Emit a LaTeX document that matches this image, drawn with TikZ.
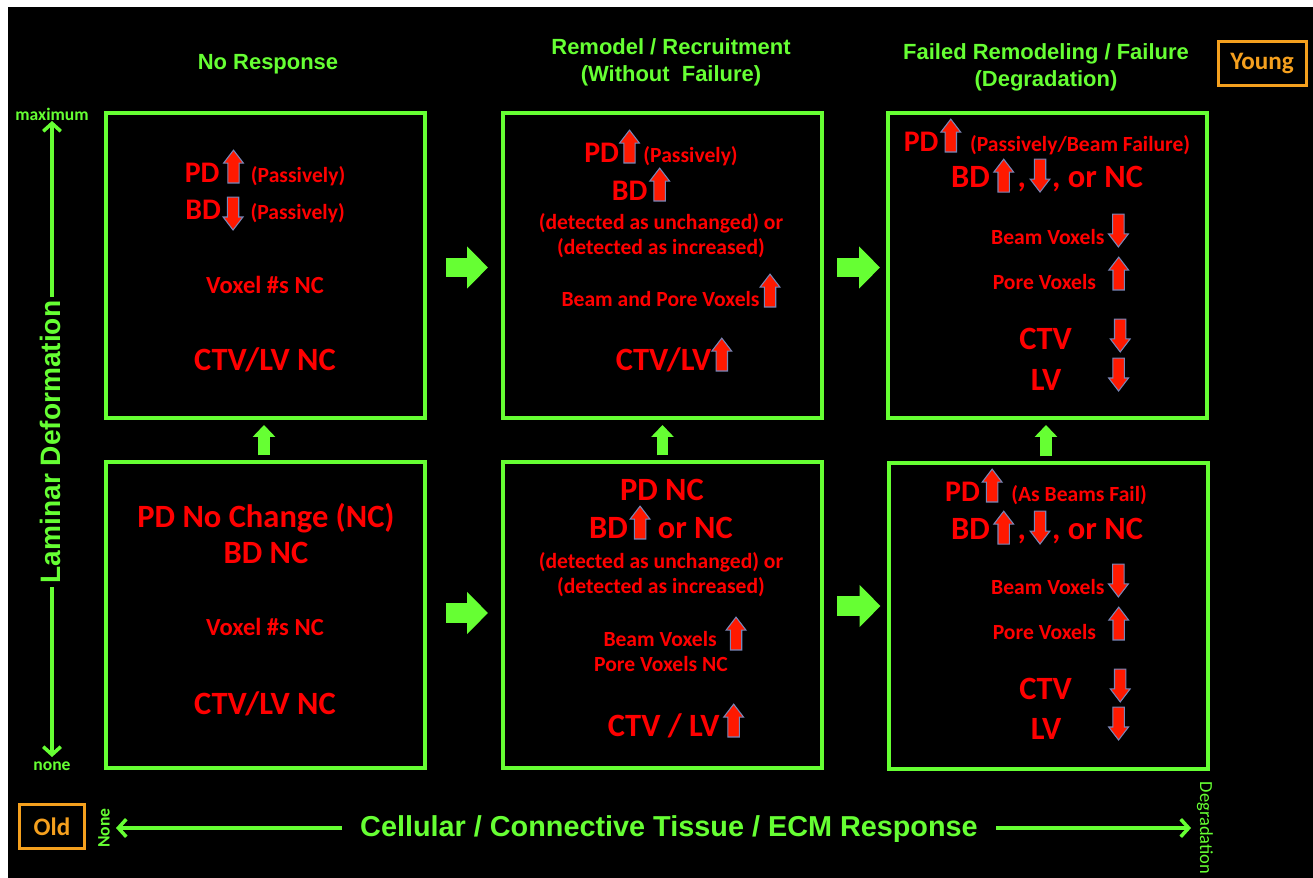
\documentclass[tikz,border=0pt]{standalone}
\usepackage{fontspec}
\setmainfont{Carlito}
\newfontfamily\arialf{Liberation Sans}
\usetikzlibrary{arrows.meta}
\definecolor{gr}{RGB}{102,255,51}
\definecolor{rd}{RGB}{255,0,0}
\definecolor{ar}{RGB}{255,25,0}
\definecolor{aro}{RGB}{120,135,185}
\definecolor{org}{RGB}{245,160,30}
\newdimen\pxu \pxu=0.02cm
\newcommand\szXL{\fontsize{18.5pt}{22pt}\selectfont}
\newcommand\szL{\fontsize{17pt}{20pt}\selectfont}
\newcommand\szM{\fontsize{14pt}{17pt}\selectfont}
\newcommand\szS{\fontsize{12.3pt}{15pt}\selectfont}
\newcommand\uparr[1][0]{\tikz[x=1pt,y=1pt,baseline=#1pt]\filldraw[fill=ar,draw=aro,line width=0.6pt,line join=miter] (2.4,0)--(8.9,0)--(8.9,11.3)--(11.3,11.3)--(5.65,18.7)--(0,11.3)--(2.4,11.3)--cycle;}
\newcommand\dnarr[1][5.7]{\tikz[x=1pt,y=1pt,baseline=#1pt]\filldraw[fill=ar,draw=aro,line width=0.6pt,line join=miter] (2.4,18.7)--(8.9,18.7)--(8.9,7.4)--(11.3,7.4)--(5.65,0)--(0,7.4)--(2.4,7.4)--cycle;}
\begin{document}
\begin{tikzpicture}[x=0.02cm,y=-0.02cm,
  box/.style={draw=gr, line width=4\pxu, minimum width=319\pxu, minimum height=305\pxu, inner sep=0pt},
  rt/.style={text=rd, font=\bfseries, inner sep=0pt, anchor=base},
  gh/.style={text=gr, font=\arialf\bfseries\fontsize{12.5pt}{15.3pt}\selectfont, align=center, inner sep=0pt},
  gs/.style={text=gr, font=\bfseries\fontsize{10pt}{12pt}\selectfont, inner sep=0pt},
  obox/.style={draw=org, line width=3\pxu, text=org, font=\bfseries\fontsize{14.3pt}{17pt}\selectfont, inner sep=0pt},
  fatR/.style={draw=gr, line width=11.3pt, -{Triangle[length=11.9pt, width=23.2pt]}},
  fatU/.style={draw=gr, line width=6.8pt, -{Triangle[length=6.8pt, width=12.5pt]}},
  axis/.style={draw=gr, line width=2pt, {Straight Barb[length=4.5pt, width=10pt]}-{Straight Barb[length=4.5pt, width=10pt]}}
]
\useasboundingbox (0,0) rectangle (1313,878);
\fill[white] (0,0) rectangle (1313,878);
\fill[black] (8,7) rectangle (1313,878);

% headings
\node[gh] (h1) at (268,64.5) {No Response};
\node[gh] (h2) at (671,62) {Remodel / Recruitment\\(Without\ \ Failure)};
\node[gh] (h3) at (1046,67.5) {Failed Remodeling / Failure\\(Degradation)};
\node[obox, minimum width=88\pxu, minimum height=44\pxu] (young) at (1262,63.5) {Young};
\node[obox, minimum width=65\pxu, minimum height=44\pxu] (old) at (52,826.5) {Old};

% boxes
\node[box] (TL) at (265.5,265.5) {};
\node[box] (TM) at (662.5,265.5) {};
\node[box] (TR) at (1047.5,265.5) {};
\node[box] (BL) at (265.5,615) {};
\node[box] (BM) at (662.5,615) {};
\node[box] (BR) at (1048,616) {};

% fat arrows
\draw[fatR, shorten <=19\pxu, shorten >=13\pxu] ([yshift=-2\pxu]TL.east) -- ([yshift=-2\pxu]TM.west);
\draw[fatR, shorten <=13\pxu, shorten >=6\pxu] ([yshift=-2\pxu]TM.east) -- ([yshift=-2\pxu]TR.west);
\draw[fatR, shorten <=19\pxu, shorten >=13\pxu] ([yshift=2\pxu]BL.east) -- ([yshift=2\pxu]BM.west);
\draw[fatR, shorten <=13\pxu, shorten >=6\pxu] ([yshift=9\pxu]BM.east) -- ([yshift=9\pxu]BM.east -| BR.west);
\draw[fatU, shorten <=5\pxu, shorten >=5\pxu] ([xshift=-1.5\pxu]BL.north) -- ([xshift=-1.5\pxu]TL.south);
\draw[fatU, shorten <=5\pxu, shorten >=5\pxu] (BM.north) -- (TM.south);
\draw[fatU, shorten <=5\pxu, shorten >=5\pxu] ([xshift=-1.5\pxu]TR.south |- BR.north) -- ([xshift=-1.5\pxu]TR.south);

% top-left
\node[rt] (tl1) at (265,183) {\szL PD\hspace{2pt}\uparr\hspace{4pt}\szS(Passively)};
\node[rt] (tl2) at (265,220) {\szL BD\hspace{1pt}\dnarr\hspace{4pt}\szS(Passively)};
\node[rt] (tl3) at (265,294) {\szM Voxel \#s NC};
\node[rt] (tl4) at (265,371) {\szXL CTV/LV NC};

% top-middle
\node[rt] (tm1) at (661,163) {\szL PD\uparr\hspace{2pt}\szS(Passively)};
\node[rt] (tm2) at (641,201) {\szL BD\hspace{1pt}\uparr};
\node[rt] (tm3) at (661,230) {\szS(detected as unchanged) or};
\node[rt] (tm4) at (661,255) {\szS(detected as increased)};
\node[rt] (tm5) at (671,307) {\szS Beam and Pore Voxels\uparr};
\node[rt] (tm6) at (674,371) {\szXL CTV/LV\uparr};

% top-right
\node[rt] (tr1) at (1047,152) {\szL PD\hspace{1pt}\uparr\hspace{5pt}\szS(Passively/Beam Failure)};
\node[rt] (tr2) at (1047,188) {\szXL BD\hspace{2pt}\uparr[2.3]\hspace{2pt},\hspace{2pt}\dnarr[2.3]\hspace{1pt}, or NC};
\node[rt] (tr3) at (1060,245) {\szS Beam Voxels\hspace{2pt}\dnarr[1.1]};
\node[rt] (tr4) at (1061,290) {\szS Pore Voxels\hspace{7pt}\uparr};
\node[rt] (tr5) at (1075,350) {\szXL CTV\hspace{21.5pt}\dnarr[1.1]};
\node[rt] (tr6) at (1080,391) {\szXL LV\hspace{26.6pt}\dnarr[0]};

% bottom-left
\node[rt] (bl1) at (266,528) {\szXL PD No Change (NC)};
\node[rt] (bl2) at (266,564) {\szXL BD NC};
\node[rt] (bl3) at (265,636) {\szM Voxel \#s NC};
\node[rt] (bl4) at (265,715) {\szXL CTV/LV NC};

% bottom-middle
\node[rt] (bm1) at (662,501) {\szXL PD NC};
\node[rt] (bm2) at (661,539) {\szXL BD\hspace{1pt}\uparr\ or NC};
\node[rt] (bm3) at (661,569) {\szS(detected as unchanged) or};
\node[rt] (bm4) at (661,594) {\szS(detected as increased)};
\node[rt] (bm5) at (675,647) {\szS Beam Voxels\hspace{5pt}\uparr[1.7]};
\node[rt] (bm6) at (661,672) {\szS Pore Voxels NC};
\node[rt] (bm7) at (676,737) {\szXL CTV / LV\hspace{2pt}\uparr};

% bottom-right
\node[rt] (br1) at (1046,502) {\szL PD\hspace{1pt}\uparr\hspace{5pt}\szS(As Beams Fail)};
\node[rt] (br2) at (1047,540) {\szXL BD\hspace{2pt}\uparr[2.3]\hspace{2pt},\hspace{2pt}\dnarr[2.3]\hspace{1pt}, or NC};
\node[rt] (br3) at (1060,595) {\szS Beam Voxels\hspace{2pt}\dnarr[1.1]};
\node[rt] (br4) at (1061,640) {\szS Pore Voxels\hspace{7pt}\uparr};
\node[rt] (br5) at (1075,700) {\szXL CTV\hspace{21.5pt}\dnarr[1.1]};
\node[rt] (br6) at (1080,740) {\szXL LV\hspace{26.6pt}\dnarr[0]};

% left axis
\node[gs] (maxl) at (52,114) {maximum};
\node[gs] (nonel) at (52,766) {none};
\coordinate (lamTop) at (52,121);
\coordinate (lamBot) at (52,757);
\draw[axis] (lamBot) -- (lamTop);
\node[text=gr, font=\arialf\bfseries\fontsize{16pt}{19pt}\selectfont, fill=black, rotate=90, inner xsep=4\pxu, inner ysep=2pt] (lam) at (50,442) {Laminar Deformation};

% bottom axis
\coordinate (axL) at (116,828);
\coordinate (axR) at (1191,828);
\draw[axis] (axL) -- (axR);
\node[text=gr, font=\arialf\bfseries\fontsize{16.4pt}{19pt}\selectfont, fill=black, inner xsep=18\pxu, inner ysep=3pt] (cell) at (669,829) {Cellular / Connective Tissue / ECM Response};
\node[gs, rotate=90] (nonev) at (104,828) {None};
\node[text=gr, font=\fontsize{10.5pt}{12pt}\selectfont, inner sep=0pt, rotate=-90] (degv) at (1205,828) {Degradation};
\end{tikzpicture}
\end{document}
